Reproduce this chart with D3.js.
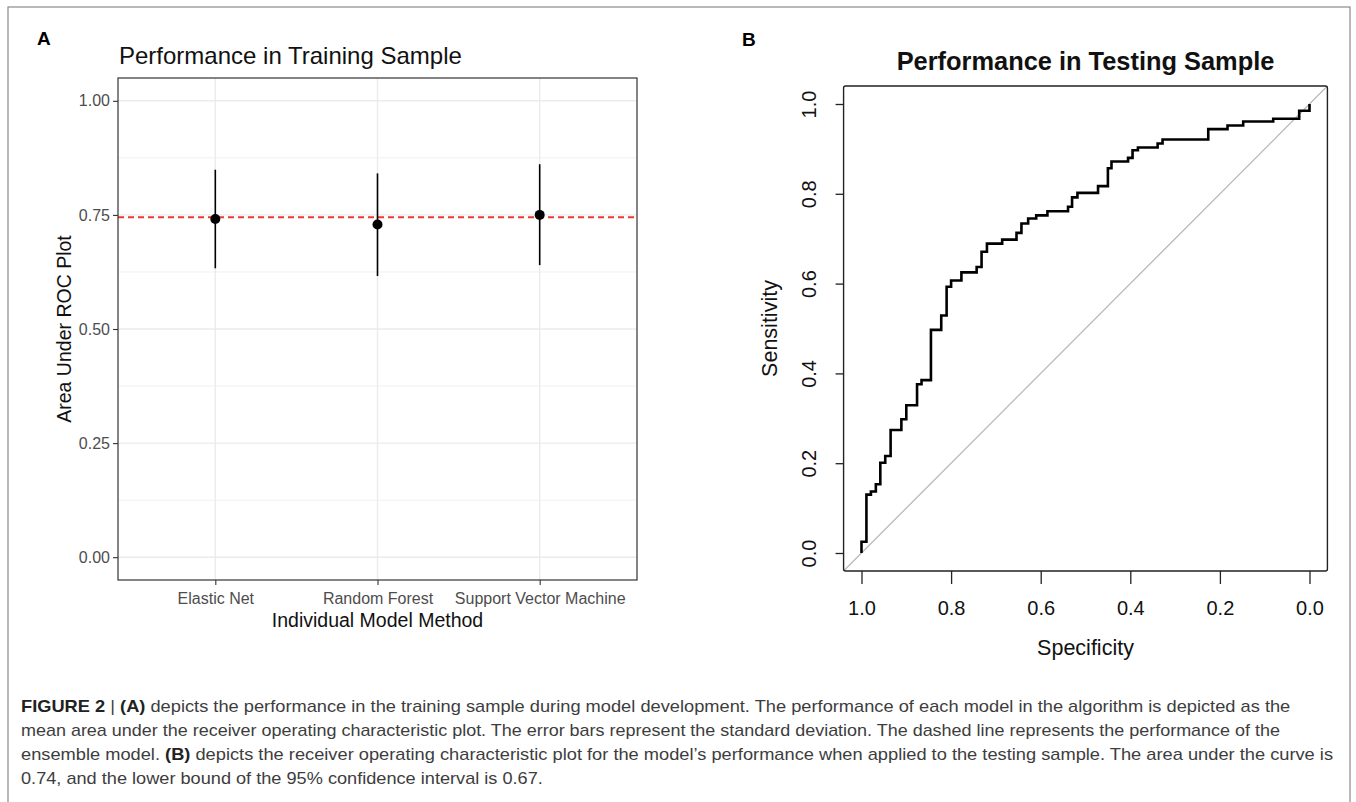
<!DOCTYPE html>
<html>
<head>
<meta charset="utf-8">
<script src="https://cdn.jsdelivr.net/npm/d3@7"></script>
<style>
  html, body { margin: 0; padding: 0; background: #fff; }
  svg { display: block; }
</style>
</head>
<body>
<svg id="fig"></svg>
<script>
// Panel A data
const models = ['Elastic Net', 'Random Forest', 'Support Vector Machine'];
const aucMean = [0.741, 0.729, 0.750];
const aucLow = [0.633, 0.616, 0.640];
const aucHigh = [0.849, 0.841, 0.861];
const ensembleAuc = 0.745;
const aTicks = [0, 0.25, 0.5, 0.75, 1];
const aMinor = [0.125, 0.375, 0.625, 0.875];

// Panel B data (ROC step corners)
const specificity = [1.0, 0.989, 0.979, 0.968, 0.958, 0.947, 0.935, 0.911, 0.90, 0.876, 0.866, 0.845,
  0.822, 0.81, 0.80, 0.777, 0.743, 0.732, 0.72, 0.686, 0.654, 0.643, 0.628, 0.61, 0.585, 0.539,
  0.53, 0.518, 0.472, 0.450, 0.442, 0.405, 0.395, 0.383, 0.339, 0.328, 0.226, 0.183, 0.148,
  0.081, 0.023, 0.0, 0.0];
const sensitivity = [0.0, 0.025, 0.13, 0.137, 0.153, 0.201, 0.216, 0.274, 0.298, 0.329, 0.376, 0.385,
  0.497, 0.529, 0.593, 0.607, 0.625, 0.637, 0.671, 0.689, 0.698, 0.713, 0.734, 0.745, 0.752, 0.761,
  0.771, 0.792, 0.802, 0.817, 0.857, 0.872, 0.880, 0.897, 0.903, 0.912, 0.921, 0.944, 0.952,
  0.961, 0.967, 0.985, 1.0];
const bTicks = [0, 0.2, 0.4, 0.6, 0.8, 1.0];

const captionLines = [
  [['FIGURE 2', true], [' | ', false], ['(A)', true], [' depicts the performance in the training sample during model development. The performance of each model in the algorithm is depicted as the', false]],
  [['mean area under the receiver operating characteristic plot. The error bars represent the standard deviation. The dashed line represents the performance of the', false]],
  [['ensemble model. ', false], ['(B)', true], [' depicts the receiver operating characteristic plot for the model\u2019s performance when applied to the testing sample. The area under the curve is', false]],
  [['0.74, and the lower bound of the 95% confidence interval is 0.67.', false]]
];
const captionWidths = [1270, 1260, 1313];

const W = 1356, H = 802;
const svg = d3.select('#fig').attr('width', W).attr('height', H);
const SANS = 'Liberation Sans, Arial, sans-serif';

// outer frame
svg.append('rect').attr('x', 8).attr('y', 7).attr('width', 1342).attr('height', 800)
  .attr('fill', 'none').attr('stroke', '#8a8a8a').attr('stroke-width', 1.2);

// panel letters
svg.append('text').attr('x', 37).attr('y', 45).text('A')
  .attr('font-family', SANS).attr('font-weight', 'bold').attr('font-size', 19);
svg.append('text').attr('x', 742).attr('y', 46).text('B')
  .attr('font-family', SANS).attr('font-weight', 'bold').attr('font-size', 19);

// ---------- Panel A ----------
const pa = { left: 118, right: 637, top: 78, bottom: 580 };
const xA = d3.scalePoint().domain(models).range([pa.left, pa.right]).padding(0.6);
const yA = d3.scaleLinear().domain([-0.05, 1.05]).range([pa.bottom, pa.top]);

const gA = svg.append('g');
gA.selectAll('.minor').data(aMinor).enter().append('line')
  .attr('x1', pa.left).attr('x2', pa.right)
  .attr('y1', d => yA(d)).attr('y2', d => yA(d))
  .attr('stroke', '#f0f0f0').attr('stroke-width', 1);
gA.selectAll('.major').data(aTicks).enter().append('line')
  .attr('x1', pa.left).attr('x2', pa.right)
  .attr('y1', d => yA(d)).attr('y2', d => yA(d))
  .attr('stroke', '#ebebeb').attr('stroke-width', 1.4);
gA.selectAll('.vgrid').data(models).enter().append('line')
  .attr('x1', d => xA(d)).attr('x2', d => xA(d))
  .attr('y1', pa.top).attr('y2', pa.bottom)
  .attr('stroke', '#ebebeb').attr('stroke-width', 1.4);

// ensemble dashed line
gA.append('line')
  .attr('x1', pa.left).attr('x2', pa.right)
  .attr('y1', yA(ensembleAuc)).attr('y2', yA(ensembleAuc))
  .attr('stroke', '#ec3b33').attr('stroke-width', 2).attr('stroke-dasharray', '6,4');

// error bars and points
gA.selectAll('.err').data(models).enter().append('line')
  .attr('x1', d => xA(d)).attr('x2', d => xA(d))
  .attr('y1', (d, i) => yA(aucLow[i])).attr('y2', (d, i) => yA(aucHigh[i]))
  .attr('stroke', '#000').attr('stroke-width', 1.6);
gA.selectAll('.pt').data(models).enter().append('circle')
  .attr('cx', d => xA(d)).attr('cy', (d, i) => yA(aucMean[i])).attr('r', 5)
  .attr('fill', '#000');

gA.append('rect').attr('x', pa.left).attr('y', pa.top)
  .attr('width', pa.right - pa.left).attr('height', pa.bottom - pa.top)
  .attr('fill', 'none').attr('stroke', '#333').attr('stroke-width', 1.2);

const axAy = gA.append('g').attr('transform', `translate(${pa.left},0)`)
  .call(d3.axisLeft(yA).tickValues(aTicks).tickFormat(d3.format('.2f')).tickSize(5).tickPadding(3));
const axAx = gA.append('g').attr('transform', `translate(0,${pa.bottom})`)
  .call(d3.axisBottom(xA).tickSize(5).tickPadding(8));
[axAy, axAx].forEach(ax => {
  ax.select('.domain').remove();
  ax.selectAll('line').attr('stroke', '#333').attr('stroke-width', 1.1);
  ax.selectAll('text').attr('fill', '#4d4d4d').attr('font-family', SANS).attr('font-size', 16);
});

gA.append('text').attr('x', 119).attr('y', 64).text('Performance in Training Sample')
  .attr('font-family', SANS).attr('font-size', 24).attr('fill', '#111');
gA.append('text').attr('x', (pa.left + pa.right) / 2).attr('y', 627)
  .attr('text-anchor', 'middle').text('Individual Model Method')
  .attr('font-family', SANS).attr('font-size', 19.5).attr('fill', '#111');
gA.append('text').attr('transform', `translate(71,${(pa.top + pa.bottom) / 2}) rotate(-90)`)
  .attr('text-anchor', 'middle').text('Area Under ROC Plot')
  .attr('font-family', SANS).attr('font-size', 19.5).attr('fill', '#111');

// ---------- Panel B ----------
const xB = d3.scaleLinear().domain([1, 0]).range([861.5, 1309.5]);
const yB = d3.scaleLinear().domain([0, 1]).range([553, 104]);
const pb = { left: xB(1.04), right: xB(-0.04), top: yB(1.04), bottom: yB(-0.04) };

const gB = svg.append('g');
gB.append('clipPath').attr('id', 'clipB').append('rect')
  .attr('x', pb.left).attr('y', pb.top)
  .attr('width', pb.right - pb.left).attr('height', pb.bottom - pb.top);

gB.append('line').attr('clip-path', 'url(#clipB)')
  .attr('x1', xB(1.04)).attr('y1', yB(-0.04)).attr('x2', xB(-0.04)).attr('y2', yB(1.04))
  .attr('stroke', '#b8b8b8').attr('stroke-width', 1.3);

const roc = specificity.map((s, i) => [s, sensitivity[i]]);
gB.append('path').datum(roc)
  .attr('d', d3.line().x(d => xB(d[0])).y(d => yB(d[1])).curve(d3.curveStepBefore))
  .attr('fill', 'none').attr('stroke', '#000').attr('stroke-width', 2.6)
  .attr('stroke-linejoin', 'miter');

gB.append('rect').attr('x', pb.left).attr('y', pb.top)
  .attr('width', pb.right - pb.left).attr('height', pb.bottom - pb.top)
  .attr('rx', 2).attr('fill', 'none').attr('stroke', '#222').attr('stroke-width', 1.4);

const axBx = gB.append('g').attr('transform', `translate(0,${pb.bottom})`)
  .call(d3.axisBottom(xB).tickValues(bTicks).tickFormat(d3.format('.1f')).tickSize(13).tickPadding(17));
const axBy = gB.append('g').attr('transform', `translate(${pb.left},0)`)
  .call(d3.axisLeft(yB).tickValues(bTicks).tickFormat(d3.format('.1f')).tickSize(8).tickPadding(12));
[axBx, axBy].forEach(ax => {
  ax.select('.domain').remove();
  ax.selectAll('line').attr('stroke', '#222').attr('stroke-width', 1.3);
  ax.selectAll('text').attr('fill', '#111').attr('font-family', SANS).attr('font-size', 20);
});
axBy.selectAll('text')
  .attr('text-anchor', 'middle').attr('dy', null).attr('x', 0)
  .attr('transform', 'translate(-35,0) rotate(-90) translate(0,7)');

gB.append('text').attr('x', (pb.left + pb.right) / 2).attr('y', 70)
  .attr('text-anchor', 'middle').text('Performance in Testing Sample')
  .attr('font-family', SANS).attr('font-weight', 'bold').attr('font-size', 25.4).attr('fill', '#111');
gB.append('text').attr('x', (pb.left + pb.right) / 2).attr('y', 655)
  .attr('text-anchor', 'middle').text('Specificity')
  .attr('font-family', SANS).attr('font-size', 21.5).attr('fill', '#111');
gB.append('text').attr('transform', `translate(777,${(yB(0) + yB(1)) / 2}) rotate(-90)`)
  .attr('text-anchor', 'middle').text('Sensitivity')
  .attr('font-family', SANS).attr('font-size', 21.5).attr('fill', '#111');

// ---------- Caption ----------
const capBase = [712, 736, 760, 784];
const capScales = [];
captionLines.forEach((parts, i) => {
  const t = svg.append('text').attr('x', 0).attr('y', 0)
    .attr('font-family', SANS).attr('font-size', 16).attr('fill', '#3d3d3d')
    .attr('xml:space', 'preserve');
  parts.forEach(p => {
    t.append('tspan').text(p[0]).attr('font-weight', p[1] ? 'bold' : 'normal')
      .attr('fill', p[1] ? '#222' : '#3d3d3d');
  });
  const w = t.node().getComputedTextLength();
  const s = i < captionWidths.length ? captionWidths[i] / w : d3.mean(capScales);
  capScales.push(s);
  t.attr('transform', `translate(21,${capBase[i]}) scale(${s},1)`);
});
</script>
</body>
</html>
